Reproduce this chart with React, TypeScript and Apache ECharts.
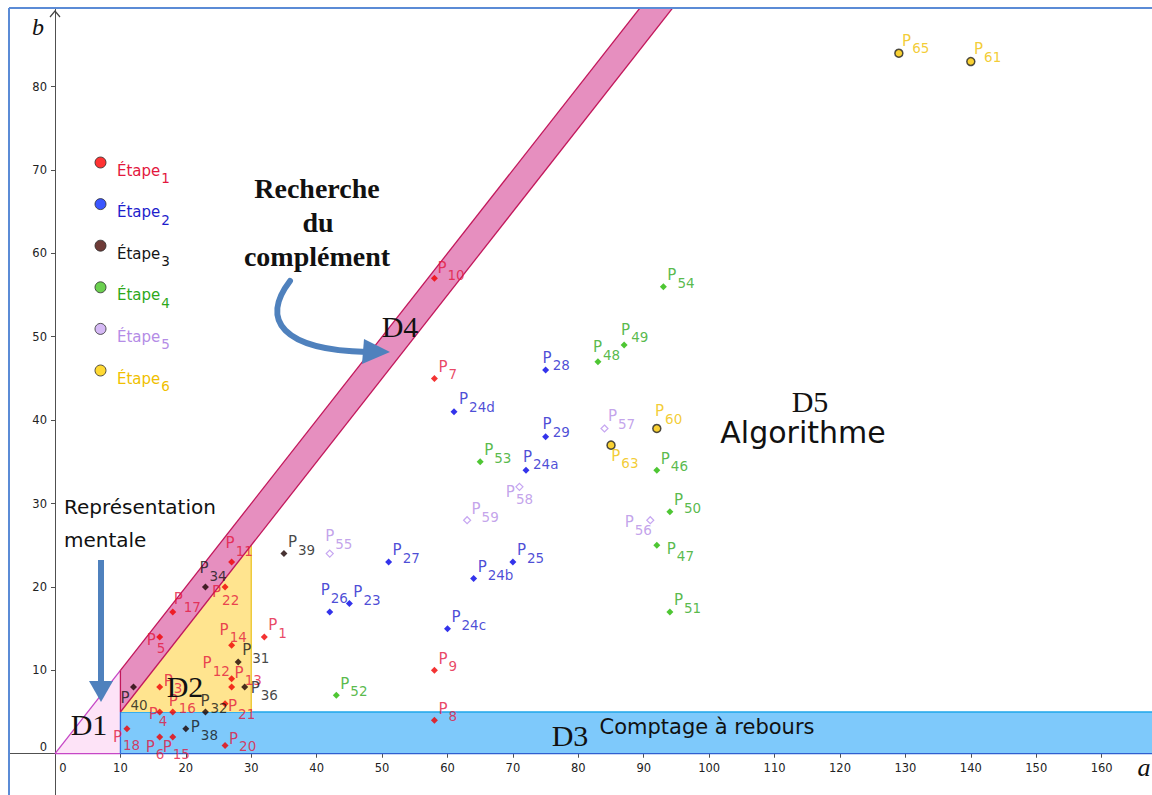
import React, { useEffect, useRef } from "react";
import * as echarts from "echarts";

// ---------- axes ----------
const xTicks = [0, 10, 20, 30, 40, 50, 60, 70, 80, 90, 100, 110, 120, 130, 140, 150, 160];
const yTicks = [0, 10, 20, 30, 40, 50, 60, 70, 80];
const X_MIN = -6.88;
const X_MAX = 167.7;
const Y_MIN = -4.95;
const Y_MAX = 89.3;

// ---------- regions (a, b vertices) ----------
const regionD1 = [[0, 0], [10, 0], [10, 10]];
const regionD2 = [[10, 5], [30, 5], [30, 25]];
const regionD3 = [[10, 0], [175, 0], [175, 5], [10, 5]];
const regionD4 = [[10, 5], [10, 10], [100, 100], [105, 100]];

// ---------- stages: [index, a, b] ----------
const stageNumbers = ["1", "2", "3", "4", "5", "6"];
const stage1: [string, number, number][] = [
  ["10", 58, 57], ["7", 58, 45], ["9", 58, 10], ["8", 58, 4], ["1", 32, 14],
  ["11", 27, 23], ["22", 26, 20], ["17", 18, 17], ["5", 16, 14], ["14", 27, 13],
  ["12", 27, 9], ["13", 27, 8], ["3", 16, 8], ["21", 26, 6], ["16", 18, 5],
  ["4", 16, 5], ["18", 11, 3], ["6", 16, 2], ["15", 18, 2], ["20", 26, 1],
];
const stage2: [string, number, number][] = [
  ["27", 51, 23], ["26", 42, 17], ["23", 45, 18], ["24b", 64, 21], ["25", 70, 23],
  ["24c", 60, 15], ["28", 75, 46], ["24d", 61, 41], ["29", 75, 38], ["24a", 72, 34],
];
const stage3: [string, number, number][] = [
  ["34", 23, 20], ["31", 28, 11], ["36", 29, 8], ["40", 12, 8], ["32", 23, 5],
  ["38", 20, 3], ["39", 35, 24],
];
const stage4: [string, number, number][] = [
  ["52", 43, 7], ["53", 65, 35], ["48", 83, 47], ["49", 87, 49], ["54", 93, 56],
  ["46", 92, 34], ["50", 94, 29], ["47", 92, 25], ["51", 94, 17],
];
const stage5: [string, number, number][] = [
  ["55", 42, 24], ["57", 84, 39], ["58", 71, 32], ["59", 63, 28], ["56", 91, 28],
];
const stage6: [string, number, number][] = [
  ["60", 92, 39], ["63", 85, 37], ["65", 129, 84], ["61", 140, 83],
];

// label placement (pixel offset of the "P" from the point)
const defaultOffset: [number, number] = [4, -17];
const labelOffsets: Record<string, [number, number]> = {
  "10": [3, -16], "17": [1, -18], "24d": [5, -18],
  "28": [-3, -18], "29": [-3, -18], "24a": [-3, -19], "48": [-5, -20], "49": [-3, -21],
  "60": [-1, -22], "63": [1, 6], "56": [-25, -3], "47": [10, -2], "55": [-4, -22],
  "26": [-9, -27], "11": [-6, -24], "34": [-6, -24], "22": [-13, 0], "5": [-13, -2],
  "14": [-12, -21], "12": [-29, -21], "13": [3, -20], "3": [4, -12], "36": [6, -5],
  "40": [-13, 5], "32": [-5, -17], "21": [3, -3], "16": [-4, -17], "4": [-11, -4],
  "38": [5, -7], "18": [-14, 3], "6": [-14, 4], "15": [-10, 4], "20": [4, -12],
  "58": [-13, 0], "59": [5, -16],
};

const FONT = "DejaVu Sans";
const SERIF = "Liberation Serif";

const W = 1152;
const H = 795;
const GRID = { left: 10, top: 9, right: 0, bottom: 0 };
// move the axes onto a = 0 and b = 0
const yAxisOffset = -((0 - X_MIN) / (X_MAX - X_MIN)) * (W - GRID.left - GRID.right);
const xAxisOffset = -((0 - Y_MIN) / (Y_MAX - Y_MIN)) * (H - GRID.top - GRID.bottom);

const labelColors = ["#e3173e", "#1d1dcc", "#151515", "#2ea81a", "#b48ce6", "#f0bf00"];
const legendFill = ["#ff0000", "#0a2cff", "#4a0a05", "#46c423", "#caa8f2", "#ffd000"];

function stageSeries(
  idx: number,
  pts: [string, number, number][],
  symbol: string,
  size: number,
  itemStyle: any
) {
  return {
    type: "scatter",
    name: "Étape" + stageNumbers[idx],
    symbol,
    symbolSize: size,
    itemStyle,
    z: 5,
    emphasis: { disabled: true },
    data: pts.map(([sub, a, b]) => {
      const off = labelOffsets[sub] || defaultOffset;
      return {
        value: [a, b],
        sub,
        label: { position: [off[0] + size / 2, off[1] + size / 2 - 2] },
      };
    }),
    label: {
      show: true,
      color: labelColors[idx],
      align: "left",
      verticalAlign: "top",
      formatter: (p: any) => `{p|P}{s|${p.data.sub}}`,
      rich: {
        p: { fontSize: 15, lineHeight: 15, fontFamily: FONT, verticalAlign: "top", color: labelColors[idx] },
        s: { fontSize: 13.5, lineHeight: 13, fontFamily: FONT, verticalAlign: "top", padding: [8, 0, 0, 1], color: labelColors[idx] },
      },
    },
  };
}

function regionSeries(
  name: string,
  verts: number[][],
  fill: string,
  edges: [number, number, string][],
  z: number
) {
  return {
    type: "custom",
    name,
    coordinateSystem: "cartesian2d",
    clip: true,
    silent: true,
    z,
    data: verts,
    encode: { x: 0, y: 1 },
    renderItem: (params: any, api: any) => {
      if (params.dataIndex !== 0) return null;
      const pts = verts.map((v) => api.coord(v));
      const children: any[] = [
        { type: "polygon", shape: { points: pts }, style: { fill, stroke: "none" } },
      ];
      edges.forEach(([i, j, color]) => {
        children.push({
          type: "line",
          shape: { x1: pts[i][0], y1: pts[i][1], x2: pts[j][0], y2: pts[j][1] },
          style: { stroke: color, lineWidth: 1.3 },
        });
      });
      return { type: "group", children };
    },
  };
}

const arrowBlue = "#4f81bd";

const option: any = {
  animation: false,
  backgroundColor: "#ffffff",
  textStyle: { fontFamily: FONT },
  grid: { ...GRID, containLabel: false, outerBoundsMode: "none" },
  xAxis: {
    type: "value",
    position: "bottom",
    offset: xAxisOffset,
    min: X_MIN,
    max: X_MAX,
    splitLine: { show: false },
    axisLine: { onZero: false, lineStyle: { color: "#505050", width: 1 } },
    axisTick: { show: true, length: 4, customValues: xTicks, lineStyle: { color: "#505050" } },
    axisLabel: {
      customValues: xTicks,
      margin: 8,
      fontSize: 11.5,
      color: "#222",
      fontFamily: FONT,
      formatter: (v: number) => (v === 0 ? "{z|0}" : String(v)),
      rich: { z: { fontSize: 11.5, color: "#222", fontFamily: FONT, padding: [0, 0, 0, 16] } },
    },
  },
  yAxis: {
    type: "value",
    position: "left",
    offset: yAxisOffset,
    min: Y_MIN,
    max: Y_MAX,
    splitLine: { show: false },
    axisLine: { onZero: false, lineStyle: { color: "#505050", width: 1 } },
    axisTick: { show: true, length: 4, customValues: yTicks, lineStyle: { color: "#505050" } },
    axisLabel: {
      customValues: yTicks,
      margin: 8,
      fontSize: 11.5,
      color: "#222",
      fontFamily: FONT,
      formatter: (v: number) => (v === 0 ? "{z|0}" : String(v)),
      rich: { z: { fontSize: 11.5, color: "#222", fontFamily: FONT, padding: [0, 0, 14, 0] } },
    },
  },
  legend: {
    orient: "vertical",
    left: 94.5,
    top: 155,
    padding: 0,
    itemWidth: 11,
    itemHeight: 11,
    itemGap: 10.6,
    selectedMode: false,
    data: stageNumbers.map((n, i) => ({
      name: "Étape" + n,
      icon: "circle",
      itemStyle: { color: legendFill[i], borderColor: "#2a2a2a", borderWidth: 1 },
      textStyle: { color: labelColors[i] },
    })),
    formatter: (name: string) => `{m|Étape}{s|${name.replace("Étape", "")}}`,
    textStyle: {
      fontFamily: FONT,
      rich: {
        m: { fontSize: 15, lineHeight: 15, fontFamily: FONT, verticalAlign: "top", padding: [8, 0, 8, 6] },
        s: { fontSize: 13.5, lineHeight: 13, fontFamily: FONT, verticalAlign: "top", padding: [16, 0, 0, 1] },
      },
    },
  },
  series: [
    regionSeries("D1", regionD1, "#fde3f7", [[0, 1, "#c646c6"], [2, 0, "#c646c6"]], 1),
    regionSeries("D3", regionD3, "#7ec9fb", [[0, 1, "#2f5fcf"], [2, 3, "#1ea6ea"], [3, 0, "#2f6fe0"]], 2),
    regionSeries("D2", regionD2, "#ffe48f", [[1, 2, "#ecc52a"]], 3),
    regionSeries("D4", regionD4, "#e68fbf", [[0, 1, "#c2185b"], [1, 2, "#c2185b"], [3, 0, "#c2185b"]], 4),
    stageSeries(0, stage1, "diamond", 7, { color: "#f00000" }),
    stageSeries(1, stage2, "diamond", 7, { color: "#0000e6" }),
    stageSeries(2, stage3, "diamond", 7, { color: "#1a0000" }),
    stageSeries(3, stage4, "diamond", 7, { color: "#22b800" }),
    stageSeries(4, stage5, "diamond", 7, { color: "#ffffff", borderColor: "#b890ee", borderWidth: 1.2 }),
    stageSeries(5, stage6, "circle", 8, { color: "#f7c600", borderColor: "#222222", borderWidth: 1.5 }),
  ],
  graphic: [
    // view border
    { type: "line", z: 20, shape: { x1: 9, y1: 8, x2: 1152, y2: 8 }, style: { stroke: "#5b8bd6", lineWidth: 2 } },
    { type: "line", z: 20, shape: { x1: 9, y1: 8, x2: 9, y2: 795 }, style: { stroke: "#5b8bd6", lineWidth: 2 } },
    // y axis arrow head
    { type: "polyline", z: 20, shape: { points: [[50, 17], [55, 11], [60, 17]] }, style: { stroke: "#444", lineWidth: 1.2, fill: "none" } },
    // axis names
    { type: "text", z: 20, style: { text: "b", x: 38, y: 27, fontSize: 24, fontStyle: "italic", fontFamily: SERIF, fill: "#111", align: "center", verticalAlign: "middle" } },
    { type: "text", z: 20, style: { text: "a", x: 1144, y: 767, fontSize: 26, fontStyle: "italic", fontFamily: SERIF, fill: "#111", align: "center", verticalAlign: "middle" } },
    // region names
    { type: "text", z: 20, style: { text: "D1", x: 89, y: 724, fontSize: 30, fontFamily: SERIF, fill: "#111", align: "center", verticalAlign: "middle" } },
    { type: "text", z: 20, style: { text: "D2", x: 185, y: 686, fontSize: 30, fontFamily: SERIF, fill: "#111", align: "center", verticalAlign: "middle" } },
    { type: "text", z: 20, style: { text: "D3", x: 570, y: 735, fontSize: 30, fontFamily: SERIF, fill: "#111", align: "center", verticalAlign: "middle" } },
    { type: "text", z: 20, style: { text: "D4", x: 400, y: 326, fontSize: 30, fontFamily: SERIF, fill: "#111", align: "center", verticalAlign: "middle" } },
    { type: "text", z: 20, style: { text: "D5", x: 810, y: 401, fontSize: 30, fontFamily: SERIF, fill: "#111", align: "center", verticalAlign: "middle" } },
    { type: "text", z: 20, style: { text: "Algorithme", x: 803, y: 432, fontSize: 30, fontFamily: FONT, fill: "#111", align: "center", verticalAlign: "middle" } },
    { type: "text", z: 20, style: { text: "Comptage à rebours", x: 707, y: 727, fontSize: 21, fontFamily: FONT, fill: "#111", align: "center", verticalAlign: "middle" } },
    // annotations
    { type: "text", z: 20, style: { text: "Recherche", x: 317, y: 188, fontSize: 28, fontWeight: "bold", fontFamily: SERIF, fill: "#111", align: "center", verticalAlign: "middle" } },
    { type: "text", z: 20, style: { text: "du", x: 318, y: 222, fontSize: 28, fontWeight: "bold", fontFamily: SERIF, fill: "#111", align: "center", verticalAlign: "middle" } },
    { type: "text", z: 20, style: { text: "complément", x: 317, y: 256, fontSize: 28, fontWeight: "bold", fontFamily: SERIF, fill: "#111", align: "center", verticalAlign: "middle" } },
    { type: "text", z: 20, style: { text: "Représentation", x: 64, y: 507, fontSize: 20, fontFamily: FONT, fill: "#111", align: "left", verticalAlign: "middle" } },
    { type: "text", z: 20, style: { text: "mentale", x: 64, y: 540, fontSize: 20, fontFamily: FONT, fill: "#111", align: "left", verticalAlign: "middle" } },
    // curved arrow
    {
      type: "bezierCurve", z: 19,
      shape: { x1: 290, y1: 281, cpx1: 260, cpy1: 320, cpx2: 282, cpy2: 350, x2: 367, y2: 352 },
      style: { stroke: arrowBlue, lineWidth: 6, fill: "none", lineCap: "round" },
    },
    { type: "polygon", z: 19, shape: { points: [[364, 339], [390, 352], [362, 364]] }, style: { fill: arrowBlue } },
    // vertical arrow
    { type: "line", z: 19, shape: { x1: 101, y1: 560, x2: 101, y2: 686 }, style: { stroke: arrowBlue, lineWidth: 6 } },
    { type: "polygon", z: 19, shape: { points: [[89, 681], [113, 681], [101, 702]] }, style: { fill: arrowBlue } },
  ],
};

export default function App() {
  const ref = useRef<HTMLDivElement>(null);
  useEffect(() => {
    const chart = echarts.init(ref.current!, null, { renderer: "svg" });
    chart.setOption(option);
    return () => chart.dispose();
  }, []);
  return (
    <div
      ref={ref}
      style={{ position: "fixed", left: 0, top: 0, width: W, height: H, background: "#fff" }}
    />
  );
}
